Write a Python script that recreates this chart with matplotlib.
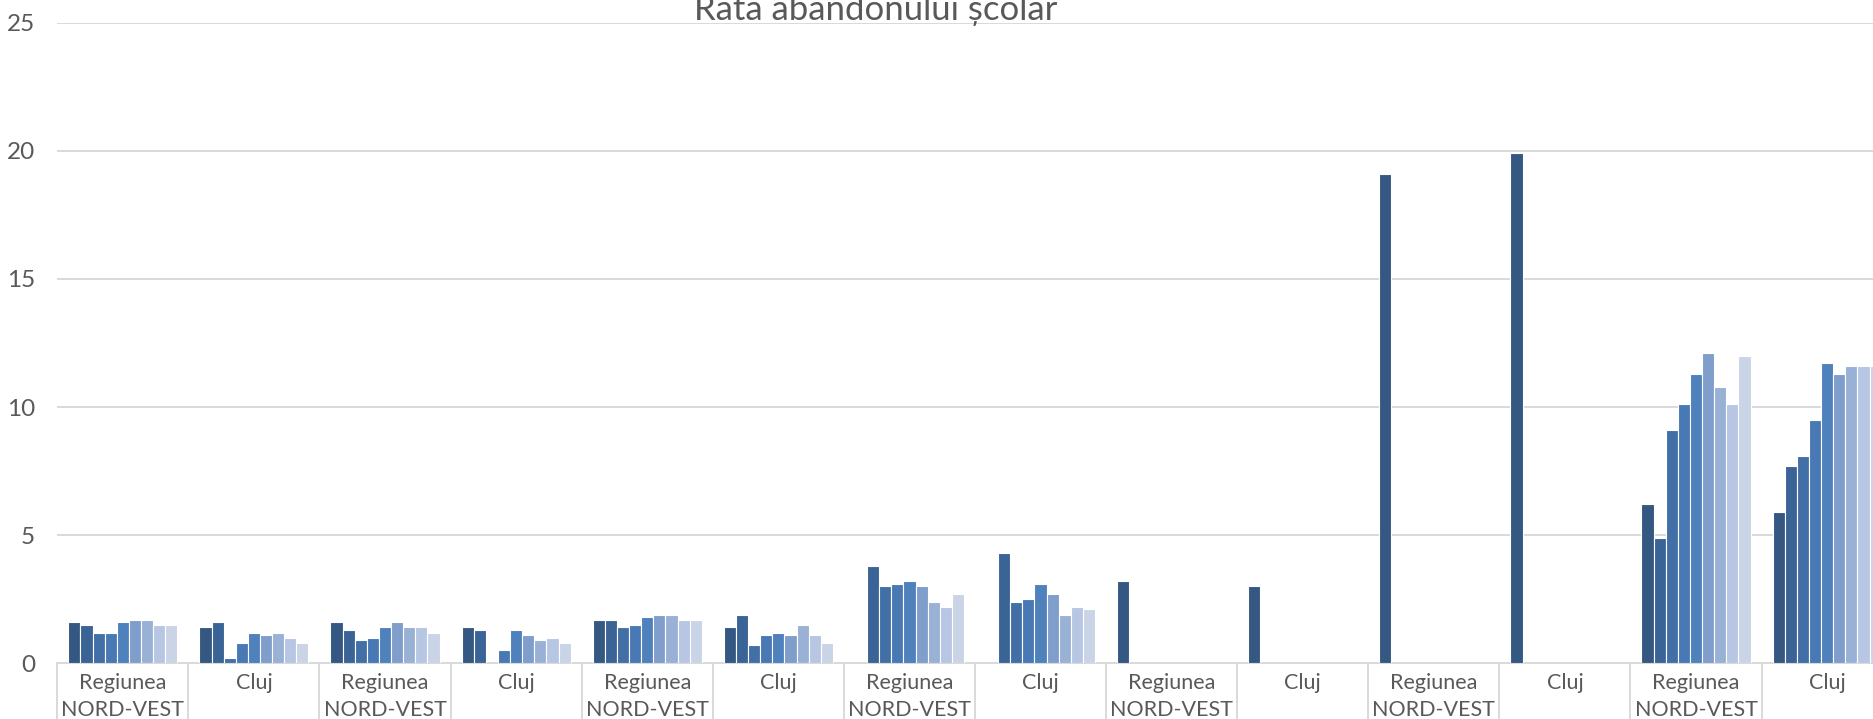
import numpy as np
import matplotlib
matplotlib.use("Agg")
import matplotlib.pyplot as plt

nan = np.nan

categories = ["Regiunea\nNORD-VEST", "Cluj"] * 7
serie_1 = [1.6, 1.4, 1.6, 1.4, 1.7, 1.4, nan, nan, 3.2, 3.0, 19.1, 19.9, 6.2, 5.9]
serie_2 = [1.5, 1.6, 1.3, 1.3, 1.7, 1.9, 3.8, 4.3, nan, nan, nan, nan, 4.9, 7.7]
serie_3 = [1.2, 0.2, 0.9, nan, 1.4, 0.7, 3.0, 2.4, nan, nan, nan, nan, 9.1, 8.1]
serie_4 = [1.2, 0.8, 1.0, 0.5, 1.5, 1.1, 3.1, 2.5, nan, nan, nan, nan, 10.1, 9.5]
serie_5 = [1.6, 1.2, 1.4, 1.3, 1.8, 1.2, 3.2, 3.1, nan, nan, nan, nan, 11.3, 11.7]
serie_6 = [1.7, 1.1, 1.6, 1.1, 1.9, 1.1, 3.0, 2.7, nan, nan, nan, nan, 12.1, 11.3]
serie_7 = [1.7, 1.2, 1.4, 0.9, 1.9, 1.5, 2.4, 1.9, nan, nan, nan, nan, 10.8, 11.6]
serie_8 = [1.5, 1.0, 1.4, 1.0, 1.7, 1.1, 2.2, 2.2, nan, nan, nan, nan, 10.1, 11.6]
serie_9 = [1.5, 0.8, 1.2, 0.8, 1.7, 0.8, 2.7, 2.1, nan, nan, nan, nan, 12.0, 11.6]
series = [serie_1, serie_2, serie_3, serie_4, serie_5, serie_6, serie_7, serie_8, serie_9]

colors = ["#345882", "#3b6496", "#4270a6", "#4879b4", "#4f81bd",
          "#7f9ecb", "#9ab1d6", "#b7c6e2", "#cad4e7"]

title = "Rata abandonului școlar"
text_color = "#595959"
grid_color = "#d9d9d9"

plt.rcParams["font.family"] = ["Lato", "DejaVu Sans"]

W, H = 1874, 719
fig = plt.figure(figsize=(W / 100, H / 100), dpi=100)

n_cat = len(categories)
cat_w = 131.1
left, zero_y, top_y = 57.3, 663.3, 22.7
ax = fig.add_axes([left / W, (H - zero_y) / H, n_cat * cat_w / W, (zero_y - top_y) / H])

x = np.arange(n_cat)
margin = 11 / cat_w
bw = (1 - 2 * margin) / len(series)
for i, (vals, c) in enumerate(zip(series, colors)):
    ax.bar(x + margin + (i + 0.5) * bw, vals, width=bw, color=c,
           edgecolor="white", linewidth=0.8, zorder=3)

ax.set_xlim(0, n_cat)
ax.set_ylim(0, 25)
ax.set_yticks(range(0, 26, 5))
ax.grid(axis="y", color=grid_color, linewidth=1.4, zorder=0)
ax.tick_params(axis="y", length=0, pad=16, labelsize=17.5, labelcolor=text_color)

ax.set_xticks(x + 0.5)
ax.set_xticklabels(categories, fontsize=15.5, color=text_color, linespacing=1.45)
ax.tick_params(axis="x", which="major", length=0, pad=7)
ax.set_xticks(np.arange(n_cat + 1), minor=True)
ax.tick_params(axis="x", which="minor", length=60, width=1.4, color=grid_color, direction="out")

for s in ["top", "right", "left"]:
    ax.spines[s].set_visible(False)
ax.spines["bottom"].set_color(grid_color)
ax.spines["bottom"].set_linewidth(1.4)

fig.text(1057 / W, 1 - 20.5 / H, title, ha="right", va="baseline",
         fontsize=25, color=text_color)

fig.savefig("out.png", dpi=100)
